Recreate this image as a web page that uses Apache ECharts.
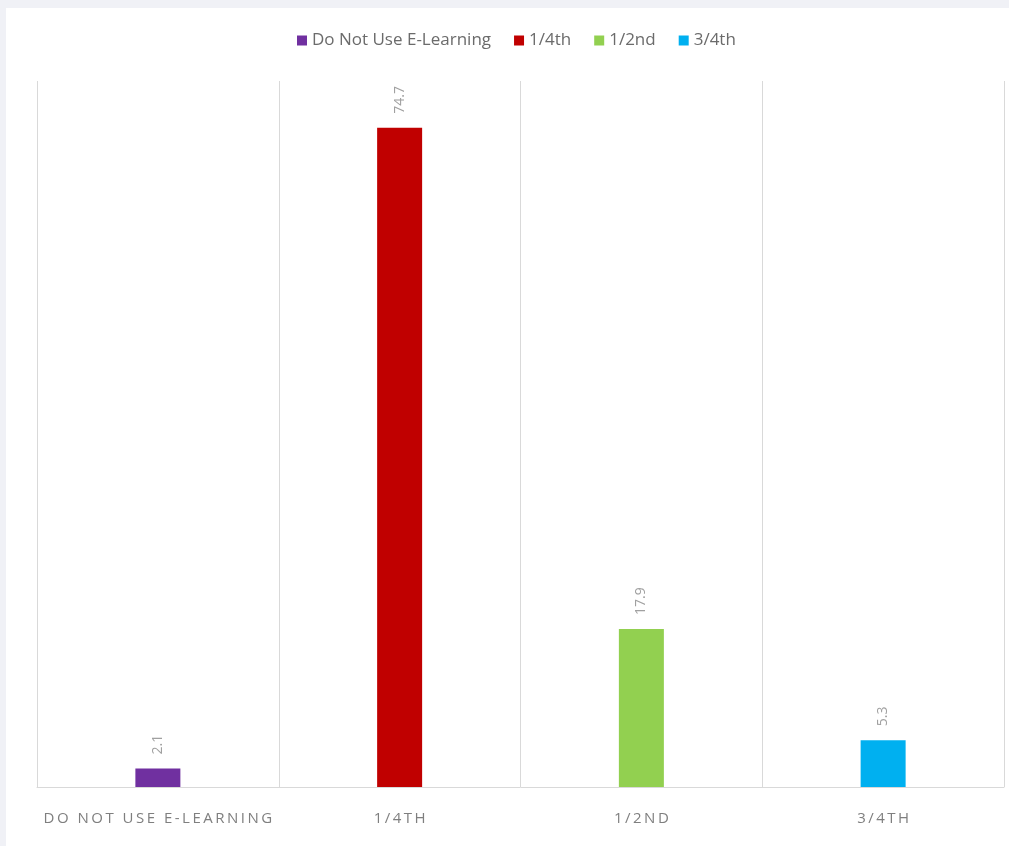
<!DOCTYPE html>
<html>
<head>
<meta charset="utf-8">
<script src="https://cdn.jsdelivr.net/npm/echarts@6/dist/echarts.min.js"></script>
<style>
  html, body { margin: 0; padding: 0; background: #f0f1f6; width: 1009px; height: 846px; overflow: hidden; }
  #chart { position: absolute; left: 6px; top: 8px; width: 1003px; height: 838px; background: #ffffff; }
</style>
</head>
<body>
<div id="chart"></div>
<script>
// Share of learning done through e-learning
const categories = ['Do Not Use E-Learning', '1/4th', '1/2nd', '3/4th'];
const seriesNames = ['Do Not Use E-Learning', '1/4th', '1/2nd', '3/4th'];
const values = [2.1, 74.7, 17.9, 5.3];
const colors = ['#7030a0', '#c00000', '#92d050', '#00b0f0'];

const fontFamily = '"Open Sans", sans-serif';

// Each series holds one value in its own category; the rest are empty
const series = seriesNames.map((name, i) => ({
  name: name,
  type: 'bar',
  barWidth: 45,
  barGap: '-100%',
  itemStyle: { color: colors[i] },
  label: {
    show: true,
    position: 'top',
    rotate: 90,
    align: 'left',
    verticalAlign: 'middle',
    distance: 14,
    color: '#a0a0a0',
    fontSize: 14,
    fontFamily: fontFamily
  },
  data: categories.map((c, j) => (j === i ? values[i] : '-'))
}));

// Upper-case, letter-spaced category labels
const spaced = s => s.toUpperCase().split('').join('\u2009');

const chart = echarts.init(document.getElementById('chart'));
chart.setOption({
  animation: false,
  color: colors,
  legend: {
    top: 19,
    left: 286,
    icon: 'rect',
    itemWidth: 10,
    itemHeight: 10,
    itemGap: 23,
    textStyle: { color: '#6b6b6b', fontSize: 17, fontFamily: fontFamily },
    data: seriesNames
  },
  grid: { left: 31, right: 5, top: 73, bottom: 59, containLabel: false },
  xAxis: {
    type: 'category',
    data: categories,
    axisLine: { lineStyle: { color: '#d9d9d9', width: 1 } },
    axisTick: { show: false },
    splitLine: { show: true, interval: 0, lineStyle: { color: '#d9d9d9', width: 1 } },
    axisLabel: {
      interval: 0,
      margin: 24,
      color: '#7f7f7f',
      fontSize: 15,
      fontFamily: fontFamily,
      formatter: v => spaced(v)
    }
  },
  yAxis: {
    type: 'value',
    min: 0,
    max: 80,
    show: false,
    splitLine: { show: false }
  },
  series: series
});
</script>
</body>
</html>
